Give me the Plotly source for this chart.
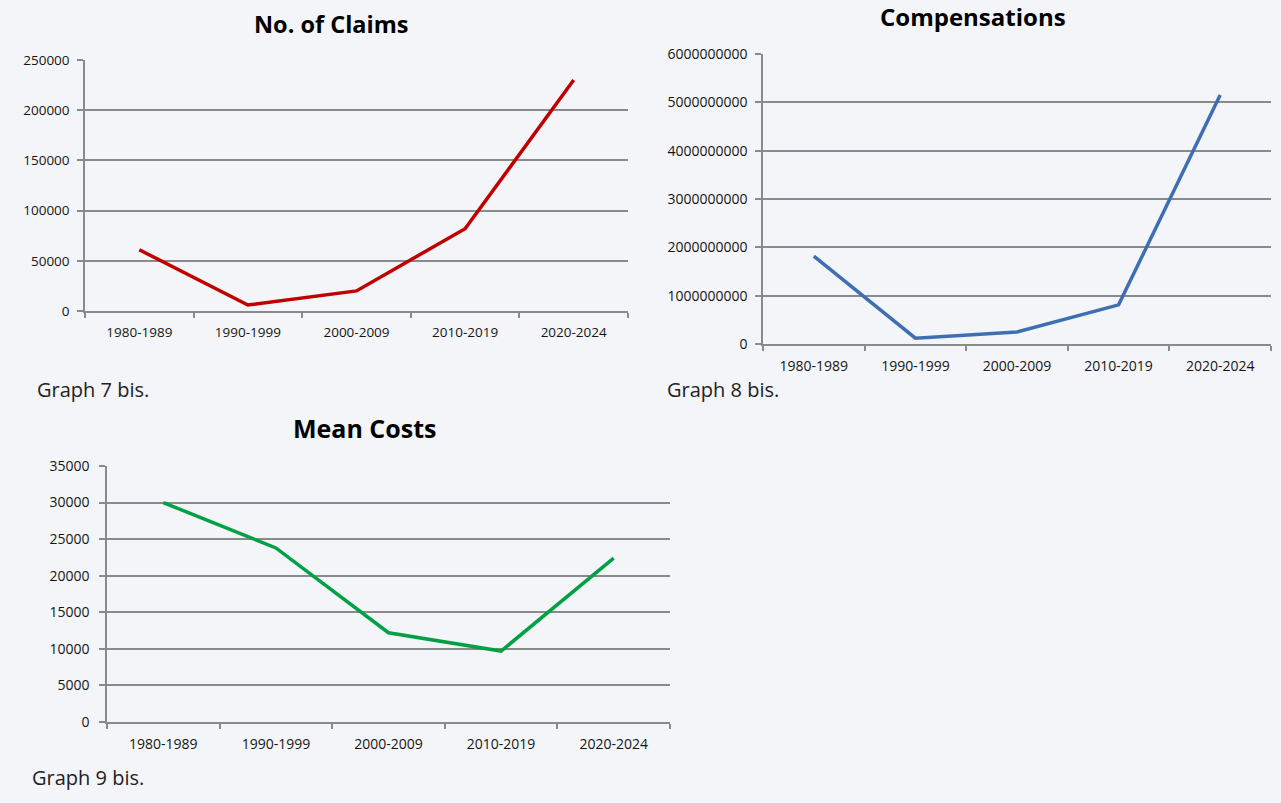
import plotly.graph_objects as go

periods = ["1980-1989", "1990-1999", "2000-2009", "2010-2019", "2020-2024"]
claims = [61000, 6000, 20000, 82000, 230000]
compensations = [1820000000, 120000000, 250000000, 810000000, 5150000000]
mean_costs = [30000, 23800, 12200, 9700, 22400]

claims_ticks = [0, 50000, 100000, 150000, 200000, 250000]
comp_ticks = [0, 1000000000, 2000000000, 3000000000, 4000000000, 5000000000, 6000000000]
cost_ticks = [0, 5000, 10000, 15000, 20000, 25000, 30000, 35000]

W, H = 1281, 803
BG = "#f3f5f8"
GRID = "#8a8a8a"
FONT = "Open Sans"
TXT = "#151515"

def dx(a, b):
    return [a / W, b / W]

def dy(top, bottom):
    return [1 - bottom / H, 1 - top / H]

fig = go.Figure()

fig.add_trace(go.Scatter(x=periods, y=claims, mode="lines",
                         line=dict(color="#c00000", width=3.5), xaxis="x", yaxis="y"))
fig.add_trace(go.Scatter(x=periods, y=compensations, mode="lines",
                         line=dict(color="#3e6fb2", width=3.5), xaxis="x2", yaxis="y2"))
fig.add_trace(go.Scatter(x=periods, y=mean_costs, mode="lines",
                         line=dict(color="#00a144", width=3.5), xaxis="x3", yaxis="y3"))

def xaxis(domain, anchor, size):
    return dict(domain=domain, anchor=anchor, type="category", range=[-0.5, 4.5],
                showgrid=False, showline=True, linecolor=GRID, linewidth=1.5,
                ticks="outside", tickson="boundaries", ticklen=5, tickcolor=GRID,
                tickwidth=1.5, ticklabelstandoff=8,
                tickfont=dict(family=FONT, size=size, color=TXT),
                fixedrange=True, zeroline=False, automargin=False)

def yaxis(domain, anchor, ticks, size, standoff):
    return dict(domain=domain, anchor=anchor, range=[ticks[0], ticks[-1]],
                tickvals=ticks, tickformat="d",
                showgrid=True, gridcolor=GRID, gridwidth=1.5,
                showline=True, linecolor=GRID, linewidth=1.5,
                ticks="outside", ticklen=6, tickcolor=GRID, tickwidth=1.5,
                ticklabelstandoff=standoff,
                tickfont=dict(family=FONT, size=size, color=TXT),
                zeroline=False, fixedrange=True, automargin=False)

layout = dict(
    width=W, height=H, paper_bgcolor=BG, plot_bgcolor=BG,
    margin=dict(l=0, r=0, t=0, b=0, pad=0, autoexpand=False), showlegend=False,
    xaxis=xaxis(dx(85, 628), "y", 13.5),
    yaxis=yaxis(dy(60, 311), "x", claims_ticks, 13.5, 5),
    xaxis2=xaxis(dx(763, 1271), "y2", 14),
    yaxis2=yaxis(dy(54, 344), "x2", comp_ticks, 14, 5),
    xaxis3=xaxis(dx(107, 670), "y3", 14),
    yaxis3=yaxis(dy(466, 722), "x3", cost_ticks, 14, 7),
)
fig.update_layout(**layout)

def note(text, x, y, size, bold=False, xanchor="center", color="#000000"):
    fig.add_annotation(text=f"<b>{text}</b>" if bold else text,
                       x=x / W, y=1 - y / H, xref="paper", yref="paper",
                       xanchor=xanchor, yanchor="middle", showarrow=False,
                       font=dict(family=FONT, size=size, color=color))

note("No. of Claims", 331, 24, 23.5, bold=True)
note("Compensations", 973, 17, 24, bold=True)
note("Mean Costs", 364, 428, 25, bold=True)
note("Graph 7 bis.", 35, 390, 20, xanchor="left", color="#222222")
note("Graph 8 bis.", 665, 390, 20, xanchor="left", color="#222222")
note("Graph 9 bis.", 30, 777, 20, xanchor="left", color="#222222")

fig.write_html("out.html", config={"displayModeBar": False},
               post_script="document.body.style.margin='0';document.body.style.overflow='hidden';")
